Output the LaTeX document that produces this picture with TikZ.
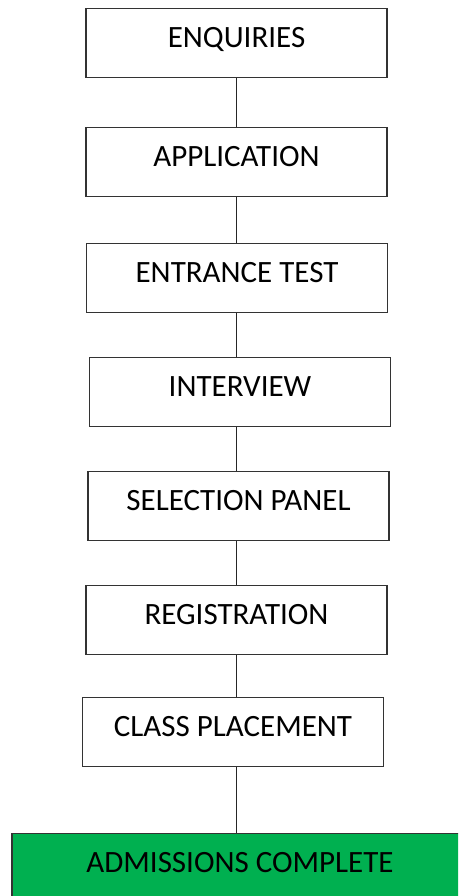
\documentclass[tikz,border=0pt]{standalone}
\usepackage{fontspec}
\setmainfont{Carlito}
\definecolor{okgreen}{HTML}{00B050}
\begin{document}
\begin{tikzpicture}[x=1pt, y=-1pt,
        stage/.style={draw=black!80, line width=1.1pt, minimum width=301pt,
            inner sep=0pt, text height=39pt, text depth=30pt, anchor=north,
            font=\fontsize{31}{36}\selectfont},
        link/.style={draw=black!85, line width=1pt}]
        \useasboundingbox (0,0) rectangle (458,896);
        \clip (0,0) rectangle (458,896);

        % Admission stages (top to bottom)
        \node[stage] (enq) at (236.5,8) {ENQUIRIES};
        \node[stage] (app) at (236.5,127) {APPLICATION};
        \node[stage] (test) at (237,243) {ENTRANCE TEST};
        \node[stage] (intv) at (240,357) {INTERVIEW};
        \node[stage] (panel) at (238.5,471) {SELECTION PANEL};
        \node[stage] (reg) at (236.5,585) {REGISTRATION};
        \node[stage] (place) at (233,697) {CLASS PLACEMENT};

        % Last stage, runs off the page
        \node[stage, fill=okgreen, minimum width=456pt] (done) at (240,833) {ADMISSIONS COMPLETE};

        % Links between stages, all on one vertical
        \foreach \a/\b in {enq/app, app/test, test/intv, intv/panel, panel/reg, reg/place, place/done} {
            \draw[link] (\a.south -| enq.south) -- (\b.north -| enq.south);
        }
    \end{tikzpicture}
\end{document}
